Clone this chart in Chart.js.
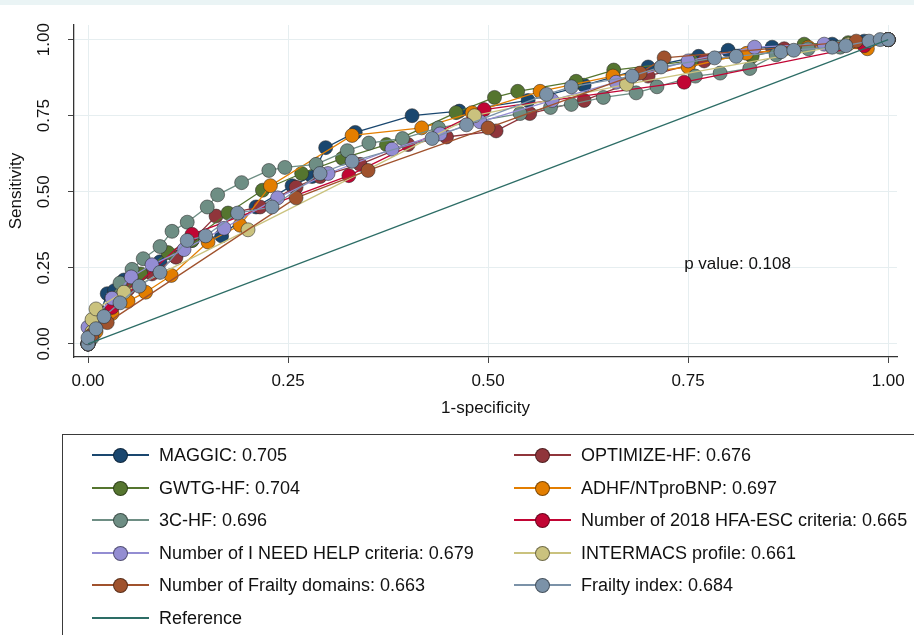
<!DOCTYPE html>
<html><head><meta charset="utf-8">
<script src="https://cdn.jsdelivr.net/npm/chart.js@4"></script>
<style>
html,body{margin:0;padding:0;background:#fff;overflow:hidden}
#wrap{position:relative;width:914px;height:635px;font-family:'Liberation Sans',Arial,sans-serif;overflow:hidden}
#topband{position:absolute;left:0;top:0;width:914px;height:5px;background:#eaf4f5}
#c{position:absolute;left:0;top:0}
#legend{position:absolute;left:62px;top:434px;width:900px;height:250px;border:1px solid #3a3a3a;box-sizing:border-box}
.item{position:absolute;height:20px;display:flex;align-items:center;font-size:18px;color:#111;white-space:nowrap}
.sym{position:relative;width:57px;height:20px;margin-right:10px;flex:none}
.sym .ln{position:absolute;left:0;right:0;top:9px;height:2px}
.sym .dot{position:absolute;left:21px;top:3px;width:15px;height:15px;border-radius:50%;box-sizing:border-box;border:1px solid rgba(0,0,0,.45)}
</style></head>
<body>
<div id="wrap">
  <canvas id="c" width="914" height="635"></canvas>
  <div id="topband"></div>
  <div id="legend"></div>
</div>
<script>
// ---- data ----
const seriesNames = ['MAGGIC','OPTIMIZE-HF','GWTG-HF','ADHF/NTproBNP','3C-HF','Number of 2018 HFA-ESC criteria','Number of I NEED HELP criteria','INTERMACS profile','Number of Frailty domains','Frailty index'];
const seriesAUC = ['0.705','0.676','0.704','0.697','0.696','0.665','0.679','0.661','0.663','0.684'];
const seriesColors = ['#1a476f','#90353b','#55752f','#e37e00','#6e8e84','#c10534','#938dd2','#cac27e','#a0522d','#7b92a8'];
const referenceLabel = 'Reference';
const referenceColor = '#2d6d66';
const referenceLine = [[0,0],[1,1]];

const maggic = [[0,0],[0.005,0.03],[0.015,0.10],[0.024,0.165],[0.033,0.175],[0.045,0.21],[0.06,0.23],[0.09,0.27],[0.13,0.34],[0.167,0.355],[0.21,0.45],[0.255,0.52],[0.28,0.55],[0.297,0.645],[0.334,0.695],[0.405,0.75],[0.464,0.765],[0.55,0.80],[0.62,0.85],[0.70,0.91],[0.763,0.945],[0.80,0.965],[0.855,0.975],[0.93,0.985],[0.97,0.995],[1,1]];
const optimize = [[0,0],[0.005,0.04],[0.02,0.10],[0.05,0.18],[0.08,0.23],[0.11,0.285],[0.16,0.42],[0.215,0.45],[0.26,0.515],[0.29,0.55],[0.34,0.59],[0.40,0.655],[0.448,0.68],[0.51,0.70],[0.552,0.757],[0.62,0.80],[0.70,0.88],[0.77,0.93],[0.87,0.97],[1,1]];
const gwtg = [[0,0],[0.006,0.04],[0.02,0.10],[0.04,0.16],[0.066,0.23],[0.10,0.30],[0.13,0.34],[0.175,0.43],[0.218,0.505],[0.267,0.56],[0.318,0.61],[0.373,0.655],[0.46,0.76],[0.508,0.81],[0.537,0.83],[0.61,0.863],[0.657,0.90],[0.754,0.93],[0.83,0.945],[0.895,0.985],[0.95,0.99],[1,1]];
const adhf = [[0,0],[0.01,0.04],[0.03,0.10],[0.05,0.14],[0.072,0.17],[0.104,0.225],[0.15,0.335],[0.19,0.39],[0.228,0.52],[0.33,0.685],[0.417,0.71],[0.48,0.76],[0.565,0.83],[0.656,0.88],[0.75,0.91],[0.823,0.955],[0.90,0.975],[0.974,0.97],[1,1]];
const threeC = [[0,0],[0.005,0.02],[0.015,0.08],[0.03,0.15],[0.04,0.20],[0.055,0.245],[0.069,0.28],[0.09,0.32],[0.105,0.37],[0.124,0.40],[0.149,0.45],[0.162,0.49],[0.192,0.53],[0.226,0.57],[0.246,0.58],[0.285,0.59],[0.324,0.635],[0.351,0.66],[0.393,0.675],[0.438,0.71],[0.54,0.757],[0.578,0.777],[0.604,0.787],[0.644,0.81],[0.685,0.825],[0.711,0.845],[0.759,0.88],[0.79,0.89],[0.827,0.905],[0.86,0.95],[0.90,0.97],[0.94,0.975],[0.97,0.985],[1,1]];
const hfaEsc = [[0,0],[0.006,0.04],[0.03,0.12],[0.13,0.36],[0.326,0.553],[0.495,0.77],[0.745,0.86],[0.97,0.98],[1,1]];
const ineedHelp = [[0,0],[0,0.055],[0.01,0.09],[0.03,0.15],[0.054,0.22],[0.08,0.26],[0.12,0.31],[0.17,0.38],[0.237,0.48],[0.30,0.56],[0.38,0.64],[0.44,0.69],[0.49,0.73],[0.58,0.80],[0.66,0.86],[0.75,0.93],[0.833,0.975],[0.92,0.985],[1,1]];
const intermacs = [[0,0],[0.005,0.04],[0.005,0.08],[0.01,0.115],[0.045,0.17],[0.20,0.375],[0.483,0.75],[0.673,0.853],[0.95,0.985],[1,1]];
const frailtyDomains = [[0,0],[0.005,0.03],[0.024,0.07],[0.26,0.48],[0.35,0.57],[0.50,0.71],[0.69,0.89],[0.72,0.94],[0.96,0.995],[1,1]];
const frailtyIndex = [[0,0],[0,0.02],[0.01,0.05],[0.02,0.09],[0.04,0.135],[0.064,0.19],[0.09,0.235],[0.124,0.34],[0.147,0.355],[0.187,0.43],[0.23,0.45],[0.29,0.56],[0.33,0.60],[0.43,0.675],[0.473,0.72],[0.573,0.82],[0.604,0.845],[0.68,0.88],[0.716,0.91],[0.783,0.94],[0.81,0.945],[0.866,0.96],[0.882,0.965],[0.93,0.975],[0.947,0.98],[0.976,0.995],[0.99,1],[1,1]];
const seriesData = [maggic, optimize, gwtg, adhf, threeC, hfaEsc, ineedHelp, intermacs, frailtyDomains, frailtyIndex];

const xTicks = [0, 0.25, 0.5, 0.75, 1];
const yTicks = [0, 0.25, 0.5, 0.75, 1];
const xTitle = '1-specificity';
const yTitle = 'Sensitivity';
const annotation = {text: 'p value: 0.108', x: 0.745, y: 0.263};

// ---- chart ----
const FONT = "'Liberation Sans', Arial, sans-serif";
const toPts = arr => arr.map(p => ({x: p[0], y: p[1]}));
const n = seriesData.length;
const datasets = seriesData.map((d, i) => ({
  label: seriesNames[i] + ': ' + seriesAUC[i],
  data: toPts(d),
  borderColor: seriesColors[i],
  backgroundColor: seriesColors[i],
  pointBackgroundColor: seriesColors[i],
  pointBorderColor: 'rgba(40,40,40,0.55)',
  pointBorderWidth: 1,
  pointRadius: 7,
  borderWidth: 1.3,
  showLine: true,
  tension: 0,
  order: n - i
}));
datasets.push({
  label: referenceLabel,
  data: toPts(referenceLine),
  borderColor: referenceColor,
  backgroundColor: referenceColor,
  pointRadius: 0,
  borderWidth: 1.3,
  showLine: true,
  order: 0
});

const annotPlugin = {
  id: 'annot',
  afterDatasetsDraw(chart) {
    const {ctx, scales} = chart;
    ctx.save();
    ctx.font = '17px ' + FONT;
    ctx.fillStyle = '#111';
    ctx.textAlign = 'left';
    ctx.textBaseline = 'middle';
    ctx.fillText(annotation.text, scales.x.getPixelForValue(annotation.x), scales.y.getPixelForValue(annotation.y));
    ctx.restore();
  }
};

new Chart(document.getElementById('c'), {
  type: 'scatter',
  data: {datasets},
  options: {
    responsive: false,
    animation: false,
    events: [],
    layout: {padding: {left: 0, right: 17, top: 25, bottom: 208}},
    plugins: {legend: {display: false}, tooltip: {enabled: false}},
    scales: {
      x: {
        type: 'linear', min: -0.0175, max: 1.011,
        afterBuildTicks: s => { s.ticks = xTicks.map(v => ({value: v})); },
        afterFit: s => { s.height = 70; },
        grid: {color: '#e6eef0', lineWidth: 1, tickColor: '#444', tickLength: 6, drawTicks: true},
        border: {color: '#333', width: 1.3},
        ticks: {font: {size: 17, family: FONT}, color: '#111', padding: 8, maxRotation: 0, minRotation: 0, callback: v => v.toFixed(2)},
        title: {display: true, text: xTitle, font: {size: 17, family: FONT}, color: '#111', padding: {top: 0, bottom: 8}}
      },
      y: {
        type: 'linear', min: -0.043, max: 1.048,
        afterBuildTicks: s => { s.ticks = yTicks.map(v => ({value: v})); },
        afterFit: s => { s.width = 74; },
        grid: {color: '#e6eef0', lineWidth: 1, tickColor: '#444', tickLength: 6, drawTicks: true},
        border: {color: '#333', width: 1.3},
        ticks: {font: {size: 17, family: FONT}, color: '#111', padding: 7, minRotation: 90, maxRotation: 90, crossAlign: 'center', callback: v => v.toFixed(2)},
        title: {display: true, text: yTitle, font: {size: 17, family: FONT}, color: '#111', padding: {top: 6, bottom: 0}}
      }
    }
  },
  plugins: [annotPlugin]
});

// ---- legend (HTML, built from the same arrays) ----
const legend = document.getElementById('legend');
const legendItems = seriesNames.map((nm, i) => ({label: nm + ': ' + seriesAUC[i], color: seriesColors[i], dot: true}));
const leftCol = [0, 2, 4, 6, 8].map(i => legendItems[i]);
leftCol.push({label: referenceLabel, color: referenceColor, dot: false});
const rightCol = [1, 3, 5, 7, 9].map(i => legendItems[i]);
const rowTop = r => 10 + r * 32.6;
function addItem(it, left, top) {
  const el = document.createElement('div');
  el.className = 'item';
  el.style.left = left + 'px';
  el.style.top = Math.round(top) + 'px';
  const sym = document.createElement('div');
  sym.className = 'sym';
  const ln = document.createElement('div');
  ln.className = 'ln';
  ln.style.background = it.color;
  sym.appendChild(ln);
  if (it.dot) {
    const dot = document.createElement('div');
    dot.className = 'dot';
    dot.style.background = it.color;
    sym.appendChild(dot);
  }
  el.appendChild(sym);
  const tx = document.createElement('span');
  tx.textContent = it.label;
  el.appendChild(tx);
  legend.appendChild(el);
}
leftCol.forEach((it, r) => addItem(it, 29, rowTop(r)));
rightCol.forEach((it, r) => addItem(it, 451, rowTop(r)));
</script>
</body></html>
